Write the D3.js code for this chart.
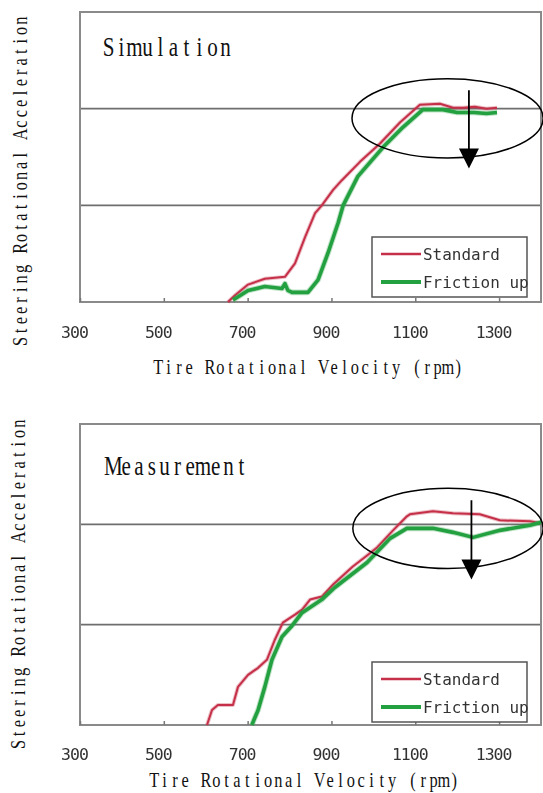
<!DOCTYPE html>
<html><head><meta charset="utf-8">
<script src="https://cdn.jsdelivr.net/npm/d3@7"></script>
<style>body{margin:0;background:#fff}svg{display:block}</style>
</head><body><div id="chart"></div>
<script>
// ---- data ----
const xTicks = [300, 500, 700, 900, 1100, 1300];
const seriesNames = ["Standard", "Friction up"];
const panelTitles = ["Simulation", "Measurement"];
const xTitle = "Tire Rotational Velocity (rpm)";
const yTitle = "Steering Rotational Acceleration";

const simStdRpm = [653,670,701,741,789,813,837,861,877,904,925,968,1016,1064,1111,1159,1190,1215,1242,1270,1295];
const simStdVal = [0,0.07,0.18,0.24,0.26,0.40,0.67,0.92,1.00,1.16,1.26,1.45,1.64,1.86,2.04,2.05,2.01,2.01,2.02,2.00,2.01];
const simFriRpm = [665,701,741,782,789,796,806,844,868,892,916,928,963,1023,1071,1118,1166,1200,1240,1270,1295];
const simFriVal = [0.02,0.12,0.16,0.14,0.19,0.12,0.10,0.10,0.23,0.51,0.82,1.00,1.30,1.60,1.81,1.99,1.99,1.96,1.96,1.95,1.96];

const meaStdRpm = [603,615,629,665,677,701,725,746,765,784,813,830,849,877,904,951,985,1009,1047,1080,1087,1142,1190,1254,1302,1374,1400];
const meaStdVal = [0,0.15,0.20,0.20,0.38,0.50,0.57,0.65,0.85,1.02,1.10,1.15,1.25,1.28,1.40,1.58,1.69,1.77,1.94,2.08,2.10,2.13,2.11,2.10,2.04,2.03,2.01];
const meaFriRpm = [710,725,741,758,782,806,830,877,908,985,1040,1080,1142,1190,1238,1302,1374,1400];
const meaFriVal = [0,0.15,0.38,0.65,0.88,0.99,1.12,1.25,1.37,1.62,1.86,1.96,1.96,1.92,1.87,1.94,1.99,2.02];

// annotation (data units): ellipse centre/radii, arrow x/top/tip
const simNote = {cx:1177, cy:1.90, rx:228, ry:0.41, ax:1228, ay0:2.19, ay1:1.38};
const meaNote = {cx:1178, cy:1.96, rx:227, ry:0.40, ax:1234, ay0:2.24, ay1:1.45};

// ---- drawing ----
const W = 543, H = 793;
const svg = d3.select("#chart").append("svg").attr("width", W).attr("height", H);
const defs = svg.append("defs");
defs.append("filter").attr("id","soft").append("feGaussianBlur").attr("stdDeviation",0.6);

const colors = ["#c53048", "#23a040"];
const widths = [2, 3.6];

// serif text laid out on a fixed character pitch (mimics a half-width Mincho face)
function monoText(parent, str, x0, y0, cw, size, sx, rot) {
  const grp = parent.append("g").attr("transform", `translate(${x0},${y0}) rotate(${rot}) scale(${sx},1)`);
  const t = grp.append("text").attr("font-family", "'Liberation Serif', 'DejaVu Serif', serif")
    .attr("font-size", size).attr("fill", "#111").attr("text-anchor", "middle");
  t.selectAll("tspan").data(str.split("")).join("tspan")
    .attr("x", (d, i) => (i * cw + cw / 2) / sx).attr("y", 0).text(d => d);
  return grp;
}

function panel(opt) {
  const x = d3.scaleLinear().domain([300, 1400]).range([80, 541]);
  const y = d3.scaleLinear().domain([0, 3]).range([opt.bottom, opt.top]);
  const g = svg.append("g");

  g.selectAll(".grid").data([1, 2]).join("line")
    .attr("x1", x(300)).attr("x2", x(1400))
    .attr("y1", d => y(d)).attr("y2", d => y(d))
    .attr("stroke", "#6e6e6e").attr("stroke-width", 1.8);

  g.append("rect").attr("x", x(300)).attr("y", y(3))
    .attr("width", x(1400) - x(300)).attr("height", y(0) - y(3))
    .attr("fill", "none").attr("stroke", "#8a8a8a").attr("stroke-width", 2);

  const ax = g.append("g").attr("transform", `translate(0,${y(0)})`)
    .call(d3.axisBottom(x).tickValues(xTicks).tickSizeInner(-4).tickSizeOuter(0).tickPadding(opt.pad).tickFormat(d3.format("d")));
  ax.select(".domain").remove();
  ax.selectAll(".tick line").attr("stroke", "#777").attr("stroke-width", 1.5);
  ax.selectAll(".tick text").attr("font-family", "DejaVu Sans Mono").attr("font-size", 16.5)
    .attr("fill", "#333").attr("dx", -6).attr("letter-spacing", -1).attr("filter", "url(#soft)");

  const line = d3.line().x(d => x(d[0])).y(d => y(d[1]));
  opt.series.forEach((s, i) => {
    const pts = s[0].map((r, k) => [r, s[1][k]]);
    g.append("path").datum(pts).attr("d", line).attr("fill", "none")
      .attr("stroke", colors[i]).attr("stroke-opacity", 0.3)
      .attr("stroke-width", widths[i] + 2).attr("stroke-linejoin", "round");
    g.append("path").datum(pts).attr("d", line).attr("fill", "none")
      .attr("stroke", colors[i]).attr("stroke-width", widths[i]).attr("stroke-linejoin", "round");
  });

  monoText(g, opt.title, opt.tx, opt.ty, opt.tcw, 27, 0.78, 0);

  const lg = g.append("g");
  lg.append("rect").attr("x", 372).attr("y", opt.legY).attr("width", 155).attr("height", 60)
    .attr("fill", "#fff").attr("stroke", "#555").attr("stroke-width", 1.5);
  seriesNames.forEach((n, i) => {
    const yy = opt.legY + 17 + i * 28;
    lg.append("line").attr("x1", 381).attr("x2", 421).attr("y1", yy).attr("y2", yy)
      .attr("stroke", colors[i]).attr("stroke-width", widths[i] + 0.6);
    lg.append("text").attr("x", 423).attr("y", yy + 6).text(n)
      .attr("font-family", "DejaVu Sans Mono").attr("font-size", 16).attr("fill", "#333")
      .attr("textLength", n.length * 9.6).attr("lengthAdjust", "spacingAndGlyphs").attr("filter", "url(#soft)");
  });

  const a = opt.note;
  g.append("ellipse").attr("cx", x(a.cx)).attr("cy", y(a.cy))
    .attr("rx", x(a.cx + a.rx) - x(a.cx)).attr("ry", y(a.cy - a.ry) - y(a.cy))
    .attr("fill", "none").attr("stroke", "#000").attr("stroke-width", 1.5);
  const axp = x(a.ax), y0 = y(a.ay0), y1 = y(a.ay1);
  g.append("line").attr("x1", axp).attr("x2", axp).attr("y1", y0).attr("y2", y1 - 18)
    .attr("stroke", "#000").attr("stroke-width", 1.8);
  g.append("path").attr("d", `M${axp - 10},${y1 - 20}L${axp + 10},${y1 - 20}L${axp},${y1}Z`).attr("fill", "#000");

  const cw = 10.35;
  monoText(g, xTitle, opt.xtX, opt.xtY, cw, 21, 0.78, 0);
  monoText(g, yTitle, opt.ytX, opt.ytC + yTitle.length * cw / 2, cw, 21, 0.78, -90);
}

panel({top: 12, bottom: 302, pad: 24, title: panelTitles[0], tx: 102, ty: 56, tcw: 13,
  series: [[simStdRpm, simStdVal], [simFriRpm, simFriVal]], legY: 237, note: simNote,
  xtX: 153, xtY: 374, ytX: 27, ytC: 181});
panel({top: 424, bottom: 725, pad: 23, title: panelTitles[1], tx: 107, ty: 475, tcw: 12.8,
  series: [[meaStdRpm, meaStdVal], [meaFriRpm, meaFriVal]], legY: 662, note: meaNote,
  xtX: 149, xtY: 787, ytX: 25, ytC: 584});
</script></body></html>
